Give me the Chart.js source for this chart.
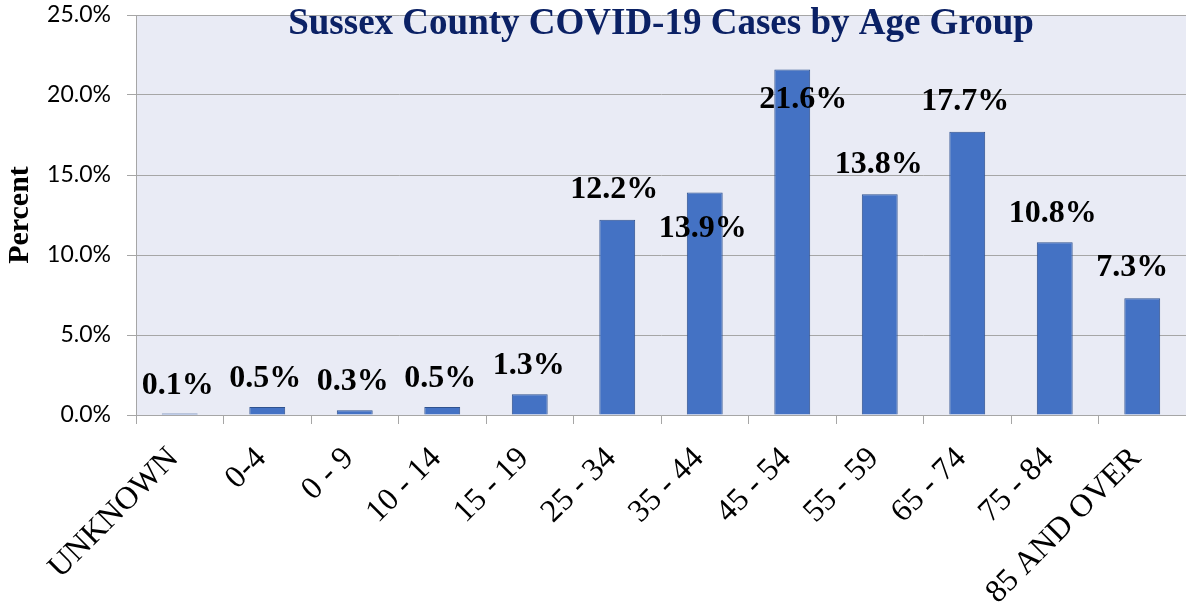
<!DOCTYPE html>
<html>
<head>
<meta charset="utf-8">
<script src="https://cdn.jsdelivr.net/npm/chart.js@4/dist/chart.umd.min.js"></script>
<style>
  html, body { margin: 0; padding: 0; background: #fff; }
  #wrap { width: 1186px; height: 606px; }
</style>
</head>
<body>
<div id="wrap"><canvas id="ageChart"></canvas></div>
<script>
var ageGroups = ['UNKNOWN', '0-4', '0 - 9', '10 - 14', '15 - 19', '25 - 34',
  '35 - 44', '45 - 54', '55 - 59', '65 - 74', '75 - 84', '85 AND OVER'];
var percentCases = [0.1, 0.5, 0.3, 0.5, 1.3, 12.2, 13.9, 21.6, 13.8, 17.7, 10.8, 7.3];
var yTicks = [0, 5, 10, 15, 20, 25];

// label nudges (px) relative to bar top, like the hand-moved excel labels
var labelDx = [-2, -2, -2, -2, -1, -3, -2, 11, -1, -2, -2, -10];
var labelDy = [-28, -28, -28, -28, -28, -30, 36, 30, -29, -30, -28, -30];

var serif = '"Liberation Serif", "Times New Roman", serif';

var bgPlugin = {
  id: 'plotBg',
  beforeDraw: function(chart) {
    var a = chart.chartArea, ctx = chart.ctx;
    ctx.save();
    ctx.fillStyle = '#E9EBF5';
    ctx.fillRect(a.left, a.top, a.right - a.left, a.bottom - a.top);
    ctx.restore();
  }
};

var labelPlugin = {
  id: 'barLabels',
  afterDatasetsDraw: function(chart) {
    var ctx = chart.ctx;
    var meta = chart.getDatasetMeta(0);
    ctx.save();
    ctx.font = 'bold 32px ' + serif;
    ctx.fillStyle = '#000';
    ctx.textAlign = 'center';
    ctx.textBaseline = 'middle';
    meta.data.forEach(function(bar, i) {
      ctx.fillText(percentCases[i].toFixed(1) + '%', bar.x + labelDx[i], bar.y + labelDy[i]);
    });
    ctx.restore();
  },
  afterDraw: function(chart) {
    var a = chart.chartArea, ctx = chart.ctx;
    ctx.save();
    ctx.font = 'bold 37px ' + serif;
    ctx.fillStyle = '#0B2165';
    ctx.textAlign = 'center';
    ctx.textBaseline = 'middle';
    ctx.fillText('Sussex County COVID-19 Cases by Age Group', (a.left + a.right) / 2, 24);
    ctx.restore();
  }
};

new Chart(document.getElementById('ageChart'), {
  type: 'bar',
  data: {
    labels: ageGroups,
    datasets: [{
      data: percentCases,
      backgroundColor: '#4472C4',
      borderColor: '#2F528F',
      borderWidth: 1,
      barPercentage: 0.41,
      categoryPercentage: 1
    }]
  },
  options: {
    responsive: true,
    maintainAspectRatio: false,
    animation: false,
    layout: { padding: { top: 15, right: 0, left: 0, bottom: 0 } },
    plugins: {
      legend: { display: false },
      tooltip: { enabled: false }
    },
    scales: {
      x: {
        grid: {
          offset: true,
          drawOnChartArea: false,
          color: '#A6A6A6',
          tickLength: 9
        },
        border: { color: '#A6A6A6' },
        ticks: {
          autoSkip: false,
          maxRotation: 45,
          minRotation: 45,
          padding: 16,
          labelOffset: -6,
          color: '#000',
          font: { family: serif, size: 32 }
        },
        afterFit: function(s) { s.height = 191; }
      },
      y: {
        min: 0,
        max: 25,
        afterBuildTicks: function(s) {
          s.ticks = yTicks.map(function(v) { return { value: v }; });
        },
        grid: { color: '#A6A6A6', tickLength: 9 },
        border: { color: '#A6A6A6' },
        ticks: {
          padding: 16,
          color: '#000',
          font: { family: 'Lato, "Open Sans", sans-serif', size: 23 },
          callback: function(v) { return v.toFixed(1) + '%'; }
        },
        title: {
          display: true,
          text: 'Percent',
          color: '#000',
          font: { family: serif, size: 30, weight: 'bold' },
          padding: { top: 2, bottom: 2 }
        },
        afterFit: function(s) {
          s.width = 136;
          s.paddingTop = 0;
          s.paddingBottom = 0;
        }
      }
    }
  },
  plugins: [bgPlugin, labelPlugin]
});
</script>
</body>
</html>
